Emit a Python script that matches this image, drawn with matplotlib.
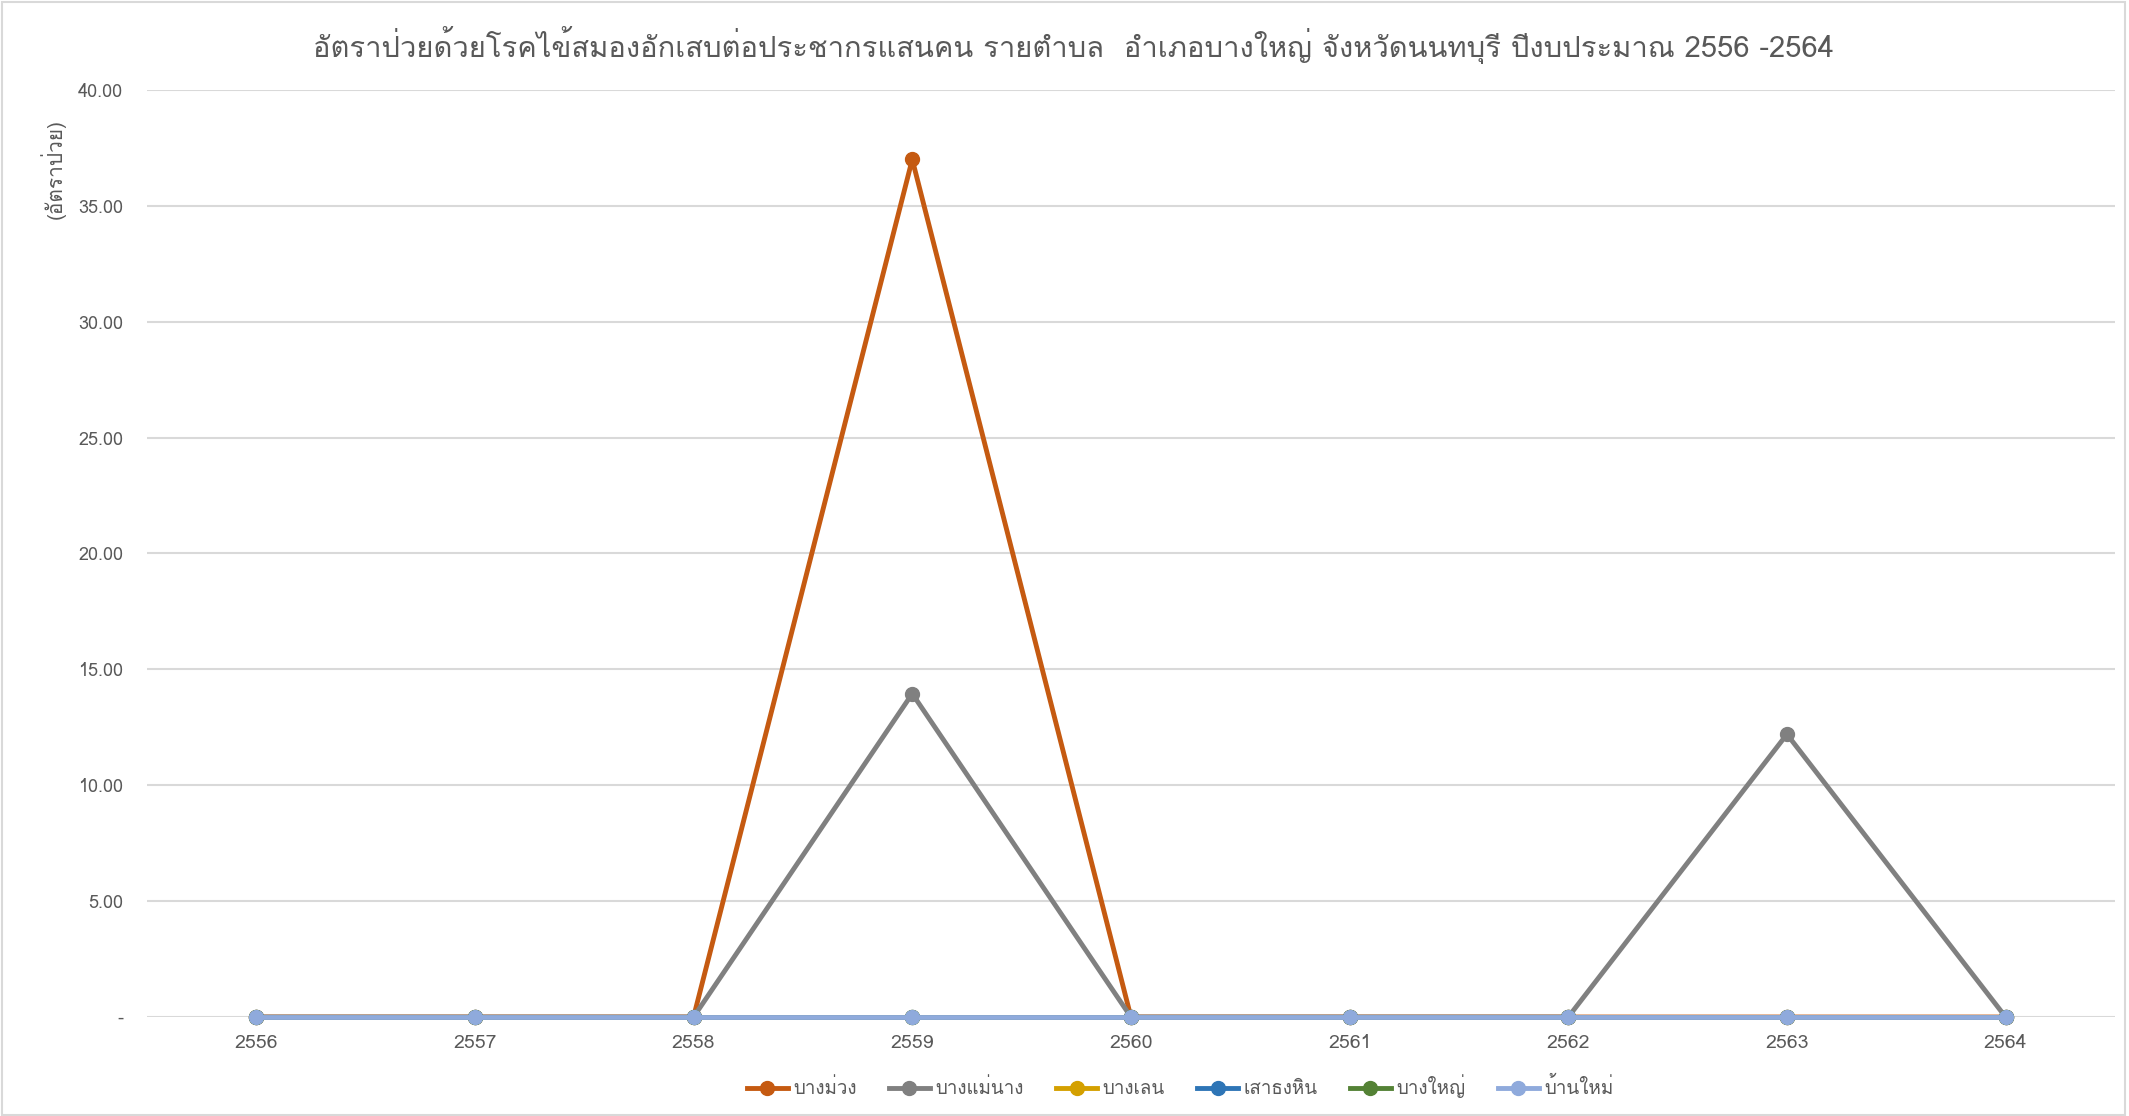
import matplotlib
matplotlib.use("Agg")
import matplotlib.pyplot as plt
from matplotlib import font_manager
from matplotlib.ft2font import FT2Font
from matplotlib.patches import Rectangle

years = ["2556", "2557", "2558", "2559", "2560", "2561", "2562", "2563", "2564"]
bang_muang = [0, 0, 0, 37.0, 0, 0, 0, 0, 0]
bang_mae_nang = [0, 0, 0, 13.95, 0, 0, 0, 12.2, 0]
bang_len = [0, 0, 0, 0, 0, 0, 0, 0, 0]
sao_thong_hin = [0, 0, 0, 0, 0, 0, 0, 0, 0]
bang_yai = [0, 0, 0, 0, 0, 0, 0, 0, 0]
ban_mai = [0, 0, 0, 0, 0, 0, 0, 0, 0]
names = ["บางม่วง", "บางแม่นาง", "บางเลน", "เสาธงหิน", "บางใหญ่", "บ้านใหม่"]
colors = ["#C55A11", "#808080", "#D4A000", "#2E75B6", "#548235", "#8FAADC"]
yticks = [0, 5, 10, 15, 20, 25, 30, 35, 40]
title = "อัตราป่วยด้วยโรคไข้สมองอักเสบต่อประชากรแสนคน รายตำบล  อำเภอบางใหญ่ จังหวัดนนทบุรี ปีงบประมาณ 2556 -2564"

# find an installed family that has Thai glyphs
thai_family = None
for f in font_manager.fontManager.ttflist:
    try:
        if FT2Font(f.fname).get_char_index(ord("ก")):
            thai_family = f.name
            break
    except Exception:
        pass
fams = [thai_family, "DejaVu Sans"] if thai_family else ["DejaVu Sans"]
plt.rcParams["font.family"] = fams

fig = plt.figure(figsize=(21.29, 11.16), dpi=100)
ax = fig.add_axes([0.069, 0.0887, 0.9244, 0.8307])
fig.patches.append(Rectangle((0.001, 0.001), 0.997, 0.997, transform=fig.transFigure,
                             fill=False, edgecolor="#D9D9D9", linewidth=1.5))

series = [bang_muang, bang_mae_nang, bang_len, sao_thong_hin, bang_yai, ban_mai]
x = list(range(len(years)))
for vals, name, c in zip(series, names, colors):
    ax.plot(x, vals, color=c, linewidth=3.5, marker="o", markersize=10, label=name,
            clip_on=False)

ax.set_xlim(-0.5, len(years) - 0.5)
ax.set_ylim(0, 40)
ax.set_xticks(x)
ax.set_xticklabels(years)
ax.set_yticks(yticks)
ax.set_yticklabels(["-"] + ["%.2f" % v for v in yticks[1:]])
ax.grid(axis="y", color="#D9D9D9", linewidth=1.5)
ax.set_axisbelow(True)
for s in ax.spines.values():
    s.set_visible(False)
ax.tick_params(axis="both", length=0, labelsize=13, colors="#595959")
ax.tick_params(axis="x", labelsize=14, pad=12)
ax.tick_params(axis="y", pad=17)

fig.text(0.025, 0.849, "(อัตราป่วย)", rotation=90, ha="center", va="center",
         fontsize=15, color="#595959")
fig.text(0.504, 0.96, title, ha="center", va="center", fontsize=21, color="#595959")

ax.legend(loc="center", bbox_to_anchor=(0.525, -0.075), ncol=6, frameon=False,
          fontsize=13.5, labelcolor="#595959", handlelength=2.2, columnspacing=1.7,
          handletextpad=0.3)

fig.savefig("out.png", dpi=100)
